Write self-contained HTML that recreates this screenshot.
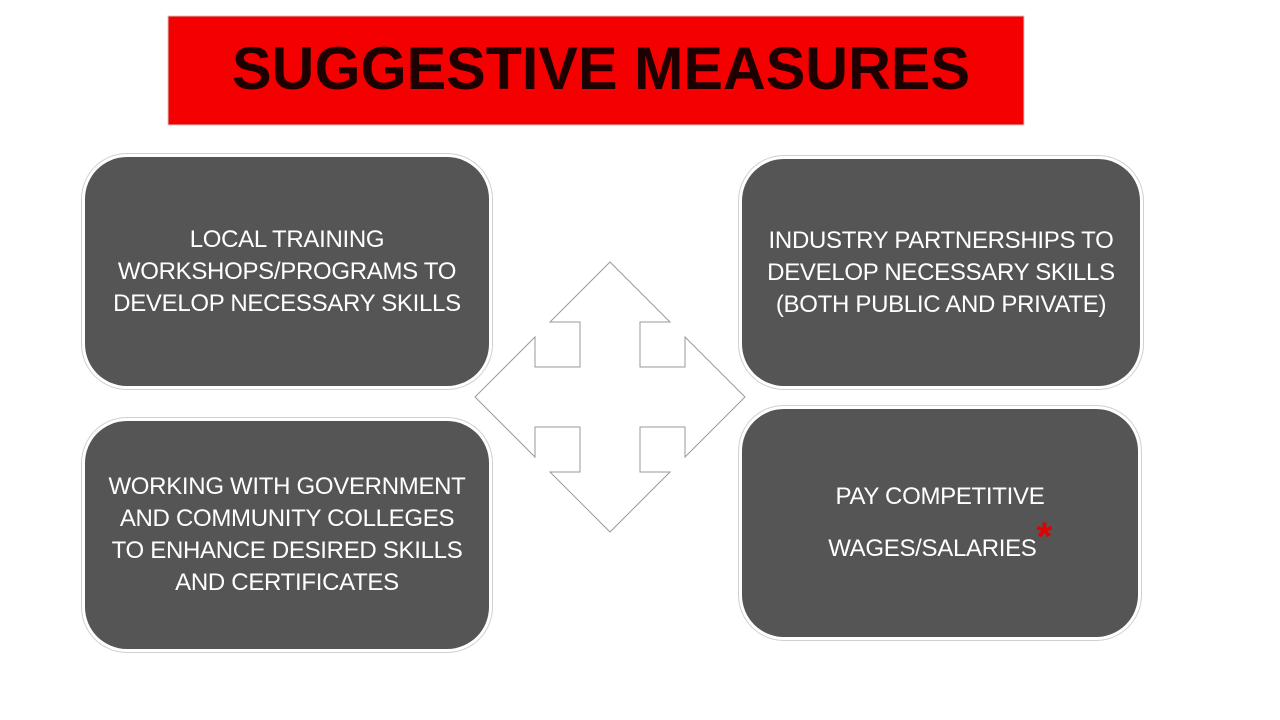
<!DOCTYPE html>
<html><head><meta charset="utf-8"><style>
body{margin:0;width:1280px;height:720px;background:#fff;position:relative;overflow:hidden;font-family:"Liberation Sans",sans-serif}
.box{position:absolute;background:#555555;border-radius:42px;box-shadow:0 0 0 3px #fff,0 0 0 4px #d0d0d0;display:flex;align-items:center;justify-content:center;text-align:center;color:#fff;font-size:24px;line-height:32px;letter-spacing:-0.3px}
</style></head><body>
<svg style="position:absolute;left:0;top:0" width="1280" height="720">
<rect x="168" y="16" width="856" height="109" fill="#f40000" stroke="#ccc" stroke-width="1"/>
<text x="232" y="89" textLength="738" lengthAdjust="spacingAndGlyphs" font-family="Liberation Sans, sans-serif" font-weight="bold" font-size="60" fill="#1e0000">SUGGESTIVE MEASURES</text>
<polygon fill="#fff" stroke="#9a9a9a" stroke-width="1"
points="610,262 670,322 640,322 640,367 685,367 685,337 745,397 685,457 685,427 640,427 640,472 670,472 610,532 550,472 580,472 580,427 535,427 535,457 475,397 535,337 535,367 580,367 580,322 550,322"/>
</svg>
<div class="box" style="left:85px;top:157px;width:404px;height:229px">LOCAL TRAINING<br>WORKSHOPS/PROGRAMS TO<br>DEVELOP NECESSARY SKILLS</div>
<div class="box" style="left:85px;top:421px;width:404px;height:228px">WORKING WITH GOVERNMENT<br>AND COMMUNITY COLLEGES<br>TO ENHANCE DESIRED SKILLS<br>AND CERTIFICATES</div>
<div class="box" style="left:742px;top:159px;width:398px;height:227px">INDUSTRY PARTNERSHIPS TO<br>DEVELOP NECESSARY SKILLS<br>(BOTH PUBLIC AND PRIVATE)</div>
<div class="box" style="left:742px;top:409px;width:396px;height:228px;line-height:52px"><div>PAY COMPETITIVE<br>WAGES/SALARIES<span style="color:#e00000;font-size:40px;font-weight:bold;line-height:0;vertical-align:6px">*</span></div></div>
</body></html>
